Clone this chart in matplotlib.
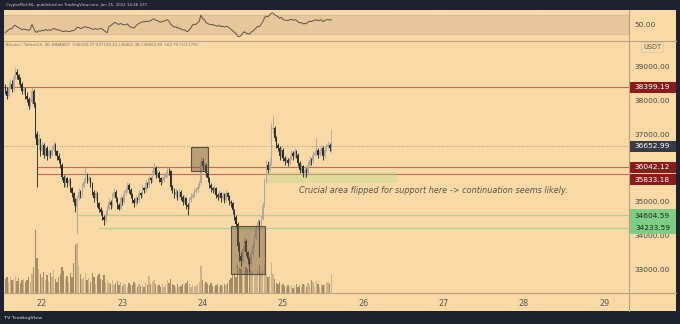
import matplotlib.pyplot as plt
import matplotlib.transforms as mtransforms
from matplotlib.patches import Rectangle
from matplotlib.lines import Line2D

W, H = 680, 324

# BTC/USDT 30m candles, Jan 21 13:00 -> Jan 25 14:30
first_open = 38400
closes = [
    38300, 38150, 38400, 38500, 38350, 38700, 38850, 38750, 38600, 38500, 38300, 38350,
    38150, 38050, 37850, 37950, 38300, 37900, 37000, 36700, 36850, 36500, 36700, 36400,
    36600, 36350, 36500, 36400, 36550, 36700, 36500, 36350, 36250, 36100, 35750, 35550,
    35700, 35550, 35650, 35400, 35250, 35000, 34850, 35100, 35300, 35200, 35450, 35600,
    35800, 35650, 35700, 35550, 35300, 35100, 35250, 34950, 34800, 34700, 34550, 34450,
    34650, 34800, 35000, 34900, 35150, 35300, 35100, 34900, 34800, 35100, 35000, 35250,
    35350, 35500, 35350, 35200, 35050, 34950, 35100, 35050, 35250, 35200, 35400, 35350,
    35550, 35500, 35700, 35650, 35850, 36000, 35800, 35850, 35700, 35600, 35650, 35750,
    35800, 35950, 35900, 35450, 35350, 35200, 35300, 35150, 35300, 35150, 35000, 35100,
    34900, 34850, 35050, 35150, 35200, 35300, 35350, 35450, 35550, 36200, 36050, 36100,
    35850, 35700, 35500, 35400, 35350, 35400, 35200, 35150, 35250, 35100, 35200, 35050,
    35250, 35150, 35000, 34950, 34750, 34550, 34350, 33700, 33400, 33250, 33600, 33850,
    33500, 33300, 33150, 33450, 33700, 33950, 34200, 34400, 34300, 34500, 34900, 35600,
    36100, 35950, 36150, 37150, 37200, 36900, 36700, 36600, 36350, 36550, 36300, 36200,
    36250, 36150, 36300, 36450, 36350, 36500, 36400, 36150, 35950, 36050, 35850, 35950,
    35850, 36100, 36250, 36200, 36400, 36450, 36550, 36400, 36500, 36600, 36350, 36550,
    36650, 36700, 36590.37, 36652.99,
]
highs = [
    38500, 38400, 38550, 38650, 38600, 38800, 38980, 38950, 38800, 38700, 38550, 38450,
    38400, 38250, 38100, 38050, 38420, 38350, 37950, 37100, 37000, 36900, 36800, 36750,
    36700, 36650, 36600, 36550, 36650, 36800, 36750, 36550, 36450, 36300, 36150, 35800,
    35800, 35750, 35750, 35700, 35450, 35300, 35100, 35200, 35400, 35350, 35550, 35700,
    36050, 35850, 35800, 35750, 35600, 35350, 35350, 35300, 35000, 34850, 34750, 34600,
    34750, 34900, 35100, 35050, 35250, 35400, 35350, 35150, 34950, 35200, 35150, 35350,
    35450, 35600, 35550, 35400, 35250, 35100, 35200, 35150, 35350, 35300, 35500, 35450,
    35650, 35600, 35800, 35750, 35950, 36150, 36050, 35950, 35900, 35750, 35750, 35850,
    35900, 36050, 36000, 35950, 35500, 35400, 35400, 35350, 35400, 35350, 35200, 35200,
    35150, 34950, 35150, 35250, 35300, 35400, 35450, 35550, 35650, 36350, 36300, 36200,
    36150, 35900, 35750, 35550, 35450, 35500, 35450, 35250, 35350, 35300, 35300, 35250,
    35350, 35300, 35200, 35050, 35000, 34800, 34600, 34400, 33800, 33500, 33700, 33950,
    33900, 33550, 33350, 33550, 33800, 34050, 34300, 34500, 34450, 34600, 35000, 35700,
    36250, 36200, 36300, 37350, 37550, 37250, 36950, 36750, 36650, 36650, 36600, 36350,
    36350, 36300, 36400, 36550, 36500, 36600, 36550, 36450, 36200, 36150, 36100, 36050,
    36000, 36200, 36350, 36300, 36500, 36550, 36900, 36600, 36600, 36700, 36650, 36650,
    36750, 36800, 36750, 37149.42,
]
lows = [
    38200, 38050, 38100, 38350, 38250, 38300, 38650, 38650, 38500, 38400, 38200, 38200,
    38050, 37950, 37750, 37800, 37900, 37800, 36900, 35450, 36550, 36350, 36400, 36300,
    36350, 36250, 36300, 36300, 36350, 36500, 36400, 36250, 36150, 36000, 35650, 35450,
    35450, 35450, 35500, 35300, 35150, 34900, 34700, 34050, 35050, 35100, 35150, 35400,
    35550, 35550, 35600, 35450, 35200, 35000, 35050, 34850, 34700, 34600, 34450, 34300,
    34400, 34600, 34750, 34800, 34850, 35100, 35000, 34800, 34750, 34750, 34900, 34950,
    35200, 35300, 35250, 35100, 34950, 34850, 34900, 34950, 35000, 35100, 35150, 35250,
    35300, 35400, 35450, 35550, 35600, 35800, 35700, 35750, 35600, 35500, 35550, 35600,
    35700, 35750, 35800, 35350, 35250, 35100, 35150, 35050, 35100, 35050, 34900, 34950,
    34800, 34620, 34800, 35000, 35100, 35150, 35250, 35300, 35400, 35500, 35950, 35950,
    35750, 35600, 35400, 35300, 35250, 35300, 35100, 35050, 35100, 35000, 35050, 34950,
    35000, 35050, 34900, 34850, 34650, 34450, 34250, 33550, 33250, 33100, 33200, 33550,
    33400, 33150, 32917, 33100, 33400, 33650, 33900, 34150, 33350, 34250, 34450, 34850,
    35550, 35850, 35900, 36100, 37050, 36800, 36600, 36500, 36250, 36300, 36200, 36100,
    36150, 36050, 36100, 36250, 36250, 36300, 36300, 36050, 35850, 35900, 35750, 35700,
    35750, 35800, 36050, 36100, 36150, 36350, 36400, 36300, 36350, 36450, 36250, 36300,
    36500, 36600, 36500, 36461.38,
]
volumes = [
    230, 260, 180, 250, 200, 220, 270, 190, 240, 160, 210, 230,
    180, 200, 260, 170, 300, 420, 1000, 560, 380, 300, 260, 340,
    210, 280, 190, 320, 250, 370, 220, 180, 260, 300, 420, 350,
    230, 270, 180, 310, 260, 480, 760, 800, 450, 300, 220, 260,
    310, 200, 240, 180, 320, 260, 150, 270, 300, 230, 200, 280,
    180, 210, 160, 140, 200, 120, 160, 190, 130, 170, 110, 150,
    140, 100, 160, 130, 120, 180, 150, 90, 140, 110, 130, 100,
    160, 120, 270, 150, 180, 210, 140, 110, 120, 90, 150, 100,
    130, 200, 160, 220, 150, 120, 100, 140, 90, 110, 150, 130,
    160, 190, 140, 100, 120, 90, 110, 140, 170, 430, 200, 150,
    180, 140, 120, 160, 110, 100, 130, 150, 90, 120, 110, 140,
    130, 160, 200, 240, 290, 320, 260, 450, 400, 380, 300, 350,
    420, 380, 500, 360, 340, 280, 300, 360, 440, 320, 380, 460,
    300, 250, 270, 480, 300, 220, 160, 140, 180, 120, 150, 110,
    90, 130, 100, 120, 80, 110, 140, 90, 130, 100, 150, 120,
    90, 160, 130, 200, 170, 110, 190, 150, 100, 140, 120, 130,
    160, 180, 150, 290,
]
rsi = [
    32, 35, 38, 41, 40, 46, 48, 45, 43, 41, 38, 40,
    39, 38, 37, 40, 50, 42, 34, 33, 36, 35, 37, 36,
    39, 37, 38, 37, 39, 41, 40, 38, 38, 37, 35, 34,
    36, 35, 34, 35, 36, 37, 39, 44, 43, 41, 42, 44,
    45, 43, 43, 41, 40, 39, 41, 39, 40, 41, 40, 37,
    34, 32, 45, 47, 50, 53, 54, 51, 50, 52, 50, 49,
    49, 51, 47, 44, 43, 42, 46, 50, 52, 54, 56, 55,
    57, 56, 57, 58, 61, 62, 59, 58, 56, 55, 56, 57,
    59, 60, 56, 50, 47, 44, 45, 42, 42, 40, 38, 38,
    36, 34, 38, 42, 49, 50, 50, 53, 57, 70, 62, 61,
    54, 52, 50, 49, 50, 48, 47, 46, 48, 45, 46, 44,
    46, 45, 42, 39, 36, 33, 30, 24, 23, 26, 31, 34,
    31, 30, 29, 33, 35, 39, 42, 46, 45, 50, 56, 64,
    68, 66, 70, 74, 75, 71, 69, 67, 63, 65, 61, 59,
    59, 58, 60, 61, 59, 60, 59, 56, 53, 54, 51, 52,
    51, 55, 57, 56, 58, 59, 60, 58, 59, 60, 56, 58,
    60, 61, 59, 60,
]

start_day = 21 + 13 / 24
step = 1 / 48
days = [start_day + i * step for i in range(len(closes))]
opens = [first_open] + closes[:-1]

red_levels = [(38399.19, 21.5), (36042.12, 21.95), (35833.18, 21.95)]
green_levels = [(34604.59, 22.42), (34233.59, 22.71)]
last_price = 36652.99
price_ticks = [33000, 34000, 35000, 36000, 37000, 38000, 39000]
day_ticks = [22, 23, 24, 25, 26, 27, 28, 29]

# zones: (day_from, day_to, price_low, price_high)
dark_boxes = [(23.855, 24.067, 35914, 36626), (24.354, 24.777, 32858, 34282)]
support_zone = (24.79, 26.42, 35556, 35882)

BG = '#f9d9a6'
DARK = '#1e222d'
FRAME = '#b9a27f'
UP = '#aca79f'
DOWN = '#2d2b28'


def fx(x):
    return x / W


def fy(y):
    return 1 - y / H


fig = plt.figure(figsize=(W / 100, H / 100), dpi=100, facecolor=DARK)
fig.add_artist(Rectangle((fx(4), fy(311)), (676 - 4) / W, (311 - 10) / H,
                         transform=fig.transFigure, fc=BG, ec='none', zorder=0))

main_rect = [fx(4), fy(293), (629 - 4) / W, (293 - 41) / H]
rsi_rect = [fx(4), fy(40), (629 - 4) / W, (40 - 11) / H]
xmin, xmax = 21.527, 29.31
ymin, ymax = 32294, 39771

# volume underneath the price pane
vax = fig.add_axes(main_rect)
vax.set_facecolor(BG)
vcols = ['#c8ae86' if c >= o else '#9b8461' for o, c in zip(opens, closes)]
vax.bar(days, volumes, width=0.8 * step, color=vcols, alpha=0.9)
vax.set_xlim(xmin, xmax)
vax.set_ylim(0, 4000)
vax.set_xticks([])
vax.set_yticks([])
for s in vax.spines.values():
    s.set_visible(False)

ax = fig.add_axes(main_rect)
ax.set_facecolor('none')
ax.set_xlim(xmin, xmax)
ax.set_ylim(ymin, ymax)
for s in ax.spines.values():
    s.set_visible(False)

cols = [UP if c >= o else DOWN for o, c in zip(opens, closes)]
ax.vlines(days, lows, highs, colors=cols, lw=0.65, zorder=3)
ax.bar(days, [abs(c - o) for o, c in zip(opens, closes)],
       bottom=[min(o, c) for o, c in zip(opens, closes)],
       width=0.75 * step, color=cols, zorder=3)

for p, d0 in red_levels:
    ax.plot([d0, xmax], [p, p], color='#c4685a', lw=0.8, zorder=2)
for p, d0 in green_levels:
    ax.plot([d0, xmax], [p, p], color='#b3d195', lw=1.0, zorder=2)
ax.axhline(last_price, color='#8d8579', lw=0.6, ls=(0, (1, 2)), zorder=2)

for d0, d1, p0, p1 in dark_boxes:
    ax.add_patch(Rectangle((d0, p0), d1 - d0, p1 - p0, fc=(0.42, 0.34, 0.24, 0.45),
                           ec='#5e4f3c', lw=0.8, zorder=4))
d0, d1, p0, p1 = support_zone
ax.add_patch(Rectangle((d0, p0), d1 - d0, p1 - p0, fc=(0.72, 0.85, 0.55, 0.4),
                       ec='none', zorder=2))
ax.text(25.2, 35330, 'Crucial area flipped for support here -> continuation seems likely.',
        fontsize=5.9, style='italic', color='#5a5550', va='center', zorder=5)

ax.yaxis.tick_right()
ax.set_yticks(price_ticks)
ax.set_yticklabels([f'{t:.2f}' for t in price_ticks])
ax.tick_params(axis='y', length=0, pad=3.6, labelsize=5.4, labelcolor='#4d4a45')
ax.set_xticks(day_ticks)
ax.set_xticklabels([str(d) for d in day_ticks])
ax.tick_params(axis='x', length=0, pad=4.5, labelsize=5.8, labelcolor='#5a5650')

# price tags on the scale
blend = mtransforms.blended_transform_factory(ax.transAxes, ax.transData)
ppx = (ymax - ymin) / 252
tag_w = 47 / 625


def tag(price, text, fc, tc, shift=0.0, h=11):
    y = price + shift * ppx
    ax.add_patch(Rectangle((1.0, y - h / 2 * ppx), tag_w, h * ppx, transform=blend,
                           fc=fc, ec='none', clip_on=False, zorder=6))
    ax.text(1.0 + tag_w / 2, y, text, transform=blend, ha='center', va='center',
            color=tc, fontsize=5.4, clip_on=False, zorder=7)


tag(38399.19, '38399.19', '#8b1a1a', 'white')
tag(36042.12, '36042.12', '#8b1a1a', 'white', shift=-0.8)
tag(35833.18, '35833.18', '#8b1a1a', 'white', shift=-6.0)
tag(last_price, '36652.99', '#363a45', 'white')
tag(34604.59, '34604.59', '#7dcd84', '#1c2a1c', shift=-0.5, h=12.5)
tag(34233.59, '34233.59', '#7dcd84', '#1c2a1c', h=12.5)

# RSI pane
rax = fig.add_axes(rsi_rect)
rax.set_facecolor(BG)
rax.set_xlim(xmin, xmax)
rax.set_ylim(16, 79)
rax.axhspan(30, 70, color='#e6c79b', zorder=1)
rax.axhline(70, color='#cdb38b', lw=0.6, ls=(0, (3, 2)), zorder=2)
rax.axhline(30, color='#cdb38b', lw=0.6, ls=(0, (3, 2)), zorder=2)
rax.plot(days, rsi, color='#5e5448', lw=0.7, zorder=3)
rax.set_xticks([])
rax.yaxis.tick_right()
rax.set_yticks([50])
rax.set_yticklabels(['50.00'])
rax.tick_params(axis='y', length=0, pad=3.6, labelsize=5.4, labelcolor='#4d4a45')
for s in rax.spines.values():
    s.set_visible(False)

# pane separators
for x0, y0, x1, y1 in [(4, 40.5, 676, 40.5), (4, 293, 676, 293), (629, 10, 629, 311)]:
    fig.add_artist(Line2D([fx(x0), fx(x1)], [fy(y0), fy(y1)], color=FRAME, lw=0.8,
                          transform=fig.transFigure, zorder=10))

# USDT unit label
fig.text(fx(652), fy(47), 'USDT', ha='center', va='center', fontsize=4.8, color='#5a5650',
         bbox=dict(boxstyle='square,pad=0.25', fc=BG, ec='#d8c4a4', lw=0.5))

fig.text(fx(6), fy(4.6), 'CryptoMichNL, published on TradingView.com, Jan 25, 2022 14:46 UTC',
         fontsize=2.9, color='#c9ccd4', va='center')
fig.text(fx(6), fy(44.5),
         'Bitcoin / TetherUS, 30, BINANCE  O36590.37 H37149.42 L36461.38 C36652.99 +62.70 (+0.17%)',
         fontsize=2.9, color='#7a7266', va='center')
fig.text(fx(4), fy(318), 'TV TradingView', fontsize=3.2, color='#9ea3ad', va='center',
         weight='bold')

fig.savefig('out.png', dpi=100, facecolor=DARK)
